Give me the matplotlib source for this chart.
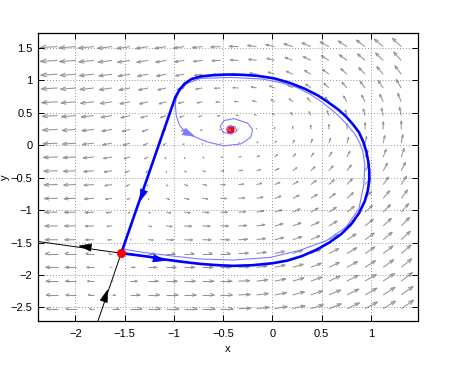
import numpy as np
import matplotlib
matplotlib.use('Agg')
import matplotlib.pyplot as plt
from matplotlib.collections import LineCollection

plt.rcParams['font.family'] = ['Liberation Sans', 'DejaVu Sans']

# axis window
xmin, xmax = -2.38, 1.48
ymin, ymax = -2.71, 1.73

# fixed points
saddle = (-1.535, -1.665)
focus = (-0.43, 0.25)

# homoclinic loop (thick blue), starting at the saddle
loop_x = [-1.535, -1.4, -1.25, -1.1, -0.9, -0.73, -0.55, -0.4, -0.2, 0.0, 0.15, 0.3,
          0.45, 0.58, 0.7, 0.8, 0.88, 0.94, 0.97, 0.985, 0.985, 0.975, 0.955, 0.925,
          0.88, 0.82, 0.75, 0.67, 0.57, 0.46, 0.33, 0.18, 0.02, -0.15, -0.3, -0.45,
          -0.6, -0.73, -0.82, -0.89, -0.94, -0.97, -0.985, -1.535]
loop_y = [-1.665, -1.69, -1.72, -1.76, -1.80, -1.83, -1.85, -1.86, -1.85, -1.82, -1.78, -1.71,
          -1.61, -1.50, -1.37, -1.22, -1.05, -0.86, -0.70, -0.55, -0.40, -0.25, -0.10, 0.05,
          0.20, 0.32, 0.44, 0.55, 0.66, 0.77, 0.87, 0.96, 1.03, 1.07, 1.085, 1.09,
          1.08, 1.06, 1.02, 0.95, 0.86, 0.78, 0.74, -1.665]

# trajectory leaving the saddle and spiralling into the focus (light blue)
traj_x = [-1.52, -1.3, -1.0, -0.73, -0.4, -0.02, 0.28, 0.55, 0.75, 0.88, 0.93, 0.94,
          0.92, 0.89, 0.84, 0.77, 0.69, 0.6, 0.5, 0.38, 0.25, 0.1, -0.1, -0.42, -0.73,
          -0.87, -0.95, -0.98, -0.985, -0.975, -0.94, -0.88, -0.79, -0.66, -0.49, -0.32,
          -0.22, -0.2, -0.25, -0.39, -0.49, -0.53, -0.50, -0.42, -0.36, -0.38,
          -0.44, -0.46, -0.43, -0.43]
traj_y = [-1.60, -1.655, -1.71, -1.755, -1.77, -1.73, -1.62, -1.47, -1.26, -0.98, -0.6, -0.3,
          -0.1, 0.03, 0.17, 0.3, 0.43, 0.55, 0.67, 0.79, 0.89, 0.96, 1.02, 1.045, 1.03,
          0.95, 0.82, 0.70, 0.62, 0.45, 0.30, 0.20, 0.13, 0.05, -0.01, 0.02,
          0.12, 0.24, 0.34, 0.41, 0.38, 0.29, 0.20, 0.17, 0.22, 0.29,
          0.29, 0.24, 0.22, 0.25]

# eigen-directions of the saddle (black)
stable_x = [-1.78, -1.535]
stable_y = [-2.75, -1.665]
unstable_x = [-1.535, -2.40]
unstable_y = [-1.665, -1.48]

# direction arrows on the curves: (tail x, tail y, tip x, tip y)
blue_arrows = [(-1.2, -1.745, -1.08, -1.78), (-1.32, -0.76, -1.35, -0.88)]
light_arrows = [(-0.88, 0.20, -0.78, 0.13)]
black_arrows = [(-1.695, -2.33, -1.67, -2.22), (-1.85, -1.575, -1.97, -1.55)]

# quiver grid
gx = np.linspace(-2.18, 1.31, 20)
gy = np.linspace(-2.52, 1.52, 20)


def field(x, y):
    # arrow vector in screen pixels
    xf, yf = focus
    t = y - yf
    u_rot = -np.where(t > 0, 8.5, 7.0) * t / (1 + 0.25 * np.abs(t))
    g = np.where(x > xf, 1.0, np.clip((y + 1.65) / 1.9, 0, 1))
    v_rot = 4.5 * (x - xf) * g
    u_left = -(9 + 1.5 * (y + 2.5)) * (1 + 0.25 * (-1.5 - x))
    b = -1.55 + np.where(y < -1.65, 0.2, 0.11) * (y + 1.65)
    w = 0.08 + 0.1 * (y + 2.6)
    s = 1.0 / (1.0 + np.exp((x - b) / w))
    return s * u_left + (1 - s) * u_rot, (1 - s) * v_rot


fig = plt.figure(figsize=(4.61, 3.70), dpi=100)
ax = fig.add_axes([38 / 461, 1 - 321 / 370, 380 / 461, 288 / 370])
ax.set_xlim(xmin, xmax)
ax.set_ylim(ymin, ymax)

# pixels per data unit
sx = 380 / (xmax - xmin)
sy = 288 / (ymax - ymin)

X, Y = np.meshgrid(gx, gy)
U, V = field(X, Y)
U = U * 1.08
V = V * 1.08
a, b = 0.35, 0.35
segs = []
for x0, y0, u, v in zip(X.ravel(), Y.ravel(), U.ravel(), V.ravel()):
    tip = (x0 + u / sx, y0 + v / sy)
    h1 = (x0 + (u - a * (u + b * v)) / sx, y0 + (v - a * (v - b * u)) / sy)
    h2 = (x0 + (u - a * (u - b * v)) / sx, y0 + (v - a * (v + b * u)) / sy)
    segs.append([(x0, y0), tip])
    segs.append([h1, tip, h2])
ax.add_collection(LineCollection(segs, colors='0.58', linewidths=0.75, zorder=1))

ax.plot(traj_x, traj_y, color='#7b7bff', lw=0.8, zorder=3)
ax.plot(loop_x, loop_y, color='#0000ff', lw=1.9, zorder=4)
ax.plot(stable_x, stable_y, color='black', lw=0.7, zorder=3)
ax.plot(unstable_x, unstable_y, color='black', lw=0.7, zorder=3)

for arrows, col in [(blue_arrows, '#0000ff'), (light_arrows, '#7b7bff'), (black_arrows, 'black')]:
    for x0, y0, x1, y1 in arrows:
        ax.annotate('', xy=(x1, y1), xytext=(x0, y0),
                    arrowprops=dict(arrowstyle='-|>,head_length=0.7,head_width=0.22',
                                    color=col, lw=0.5, shrinkA=0, shrinkB=0,
                                    mutation_scale=12), zorder=5)

ax.plot(*saddle, 'o', color='red', ms=5.5, zorder=6)
ax.plot(*focus, 'o', color='red', ms=5, zorder=2)

ax.set_xticks([-2, -1.5, -1, -0.5, 0, 0.5, 1])
ax.set_yticks([-2.5, -2, -1.5, -1, -0.5, 0, 0.5, 1, 1.5])
ax.set_xticklabels(['\u22122', '\u22121.5', '\u22121', '\u22120.5', '0', '0.5', '1'])
ax.set_yticklabels(['\u22122.5', '\u22122', '\u22121.5', '\u22121', '\u22120.5', '0', '0.5', '1', '1.5'])
ax.grid(True, linestyle=(0, (1, 2.5)), color='0.45', lw=0.6)
ax.tick_params(direction='in', top=True, right=True, length=4, width=0.7,
               labelsize=8, pad=4)
ax.tick_params(axis='x', pad=6)
for sp in ax.spines.values():
    sp.set_linewidth(0.9)
ax.set_xlabel('x', fontsize=8, labelpad=3)
ax.set_ylabel('y', fontsize=8, va='center', ha='center', rotation_mode='default')
ax.yaxis.set_label_coords(-0.087, 0.5)

fig.savefig('out.png', dpi=100)
